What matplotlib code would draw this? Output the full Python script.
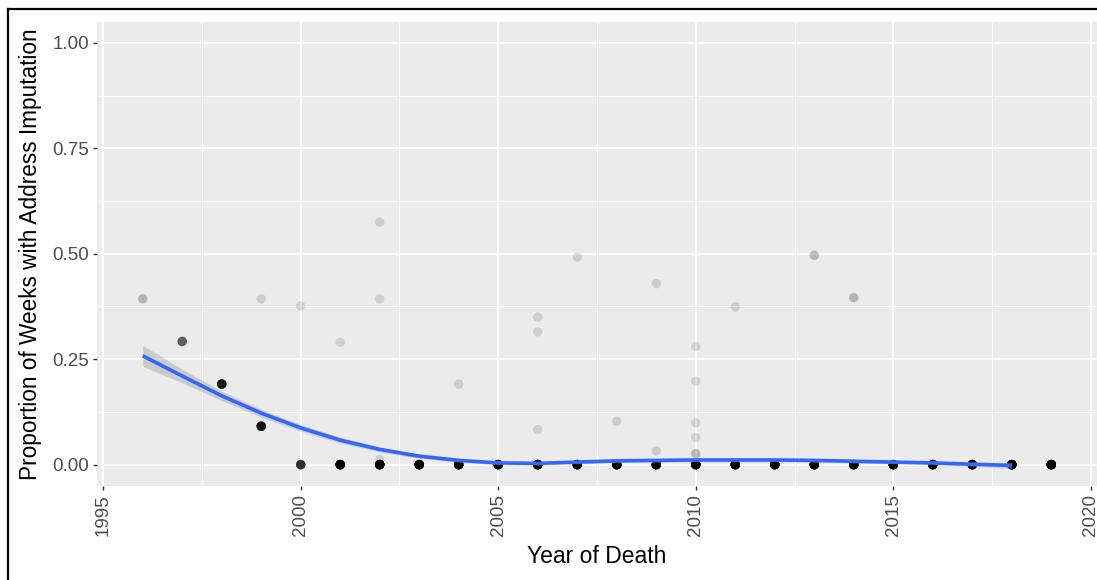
import numpy as np
import matplotlib
matplotlib.use("Agg")
import matplotlib.pyplot as plt
from matplotlib.lines import Line2D

# --------------------------
# Data
# --------------------------
# individual observations (year, proportion, number of overlapping obs)
obs_year = [1996, 1997, 1998, 1999, 1999, 2000, 2000,
            2001, 2001, 2002, 2002, 2002, 2002, 2003, 2004, 2004,
            2005, 2006, 2006, 2006, 2006, 2007, 2007, 2008, 2008,
            2009, 2009, 2009, 2010, 2010, 2010, 2010, 2010, 2010,
            2011, 2011, 2012, 2013, 2013, 2014, 2014, 2015, 2016,
            2017, 2018, 2019]
obs_prop = [0.393, 0.292, 0.191, 0.091, 0.393, 0.000, 0.376,
            0.000, 0.290, 0.000, 0.575, 0.393, 0.012, 0.000, 0.000, 0.191,
            0.000, 0.000, 0.350, 0.315, 0.083, 0.000, 0.492, 0.000, 0.103,
            0.000, 0.429, 0.032, 0.000, 0.280, 0.198, 0.099, 0.064, 0.026,
            0.000, 0.374, 0.000, 0.000, 0.496, 0.000, 0.396, 0.000, 0.000,
            0.000, 0.000, 0.000]
obs_count = [2, 7, 17, 18, 1, 12, 1,
             30, 1, 30, 1, 1, 1, 30, 30, 1,
             30, 30, 1, 1, 1, 30, 1, 30, 1,
             30, 1, 1, 30, 1, 1, 1, 1, 2,
             30, 1, 30, 30, 2, 30, 2, 30, 30,
             30, 40, 40]

# loess fit and its standard error band
fit_year = list(range(1996, 2019))
fit_val = [0.258, 0.210, 0.163, 0.122, 0.087, 0.058, 0.036, 0.020,
           0.010, 0.004, 0.003, 0.006, 0.009, 0.010, 0.011, 0.011,
           0.011, 0.010, 0.008, 0.006, 0.004, 0.001, -0.002]
fit_se = [0.025, 0.016, 0.011, 0.009, 0.008, 0.007, 0.006, 0.005,
          0.004, 0.004, 0.004, 0.004, 0.004, 0.004, 0.004, 0.004,
          0.004, 0.004, 0.004, 0.004, 0.004, 0.005, 0.007]

x_ticks = [1995, 2000, 2005, 2010, 2015, 2020]
y_ticks = [0.00, 0.25, 0.50, 0.75, 1.00]
y_tick_labels = ["0.00", "0.25", "0.50", "0.75", "1.00"]

# --------------------------
# Figure
# --------------------------
plt.rcParams['font.family'] = ['Liberation Sans', 'DejaVu Sans']

W, H = 1097, 580
fig = plt.figure(figsize=(W / 100, H / 100), dpi=100)
ax = fig.add_axes([97.3 / W, (H - 485.7) / H, 999.4 / W, 464 / H])

ax.set_facecolor("#EBEBEB")
for s in ax.spines.values():
    s.set_visible(False)

ax.set_xlim(1994.85, 2020.15)
ax.set_ylim(-0.05, 1.05)

ax.set_xticks(x_ticks)
ax.set_xticks([1997.5, 2002.5, 2007.5, 2012.5, 2017.5], minor=True)
ax.set_yticks(y_ticks)
ax.set_yticklabels(y_tick_labels)
ax.set_yticks([0.125, 0.375, 0.625, 0.875], minor=True)

ax.grid(which="major", color="white", linewidth=1.4)
ax.grid(which="minor", color="white", linewidth=0.7)
ax.set_axisbelow(True)

ax.tick_params(which="major", length=3, width=1.0, color="#333333",
               labelcolor="#4D4D4D", labelsize=13.5, pad=3)
ax.tick_params(which="minor", length=0)
ax.tick_params(axis="x", labelrotation=90)

# points, overlapping observations stacked with alpha
for yr, p, n in zip(obs_year, obs_prop, obs_count):
    ax.scatter([yr] * n, [p] * n, s=46, color="black", alpha=0.12,
               edgecolors="none", zorder=3)

# smooth with ribbon
lo = [v - e for v, e in zip(fit_val, fit_se)]
hi = [v + e for v, e in zip(fit_val, fit_se)]
ax.fill_between(fit_year, lo, hi, color="#999999", alpha=0.4,
                linewidth=0, zorder=4)
ax.plot(fit_year, fit_val, color="#3366FF", linewidth=2.6, zorder=5,
        solid_capstyle="butt")

ax.set_xlabel("Year of Death", fontsize=16.5)
ax.xaxis.set_label_coords(0.5, (485.7 - 545) / 464)
ax.set_ylabel("Proportion of Weeks with Address Imputation", fontsize=16.3)
ax.yaxis.set_label_coords((42 - 97.3) / 999.4, 0.5)

# black frame (left and top edges visible in crop)
fig.add_artist(Line2D([7.5 / W, 7.5 / W], [0, 1 - 9 / H], color="black",
                      linewidth=1.6, transform=fig.transFigure))
fig.add_artist(Line2D([7.5 / W, 1], [1 - 9 / H, 1 - 9 / H], color="black",
                      linewidth=1.6, transform=fig.transFigure))

fig.savefig("out.png", dpi=100, facecolor="white")
